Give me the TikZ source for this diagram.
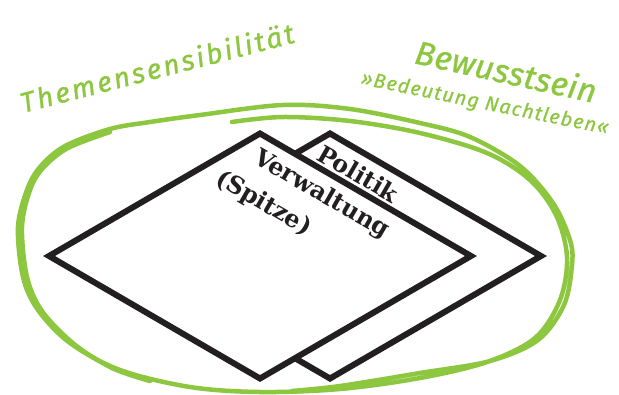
\documentclass[tikz,border=0pt]{standalone}
\usepackage{fontspec}
\newfontfamily\handT{Fira Sans}[LetterSpace=9,FakeBold=1]
\newfontfamily\handB{Fira Sans}[LetterSpace=1,FakeBold=1]
\newfontfamily\handC{Fira Sans}[LetterSpace=6,FakeBold=0.8]
\newfontfamily\labfont{DejaVu Serif}
\definecolor{lgreen}{HTML}{8DC63F}
\definecolor{dblack}{HTML}{231F20}
\tikzset{
  loop/.style={draw=lgreen, line width=4.5pt, line cap=round, line join=round},
  sheet/.style={draw=dblack, fill=white, line width=6pt, line join=miter},
  handtext/.style={text=lgreen, inner sep=0pt},
  labtext/.style={text=dblack, inner sep=0pt, font=\labfont\bfseries\fontsize{24}{28}\selectfont, rotate=-30, anchor=base west},
}
\begin{document}
\begin{tikzpicture}[x=1pt,y=-1pt]
\useasboundingbox (0,0) rectangle (619,394);
% green hand-drawn loop
\draw[loop] plot[smooth, tension=0.55] coordinates {
 (232,122) (283,117) (350,121) (420,133) (487,153) (530,180) (556,215)
 (567,257) (560,300) (535,338) (487,362) (420,378) (340,389) (260,392)
 (190,387) (120,370) (70,343) (38,310) (23,277) (18,227) (27,190)
 (40,167) (65,146) (110,129) (150,122) (200,115) (283,105) (350,109)
 (420,123) (470,137) (520,166) (553,203) (570,240) (572,265) (564,305)
 (538,340) (490,361) (420,373) (340,386) (292,391)};
\draw[loop, line width=4.5pt] plot[smooth, tension=0.55] coordinates {
 (150,381) (112,368) (74,344) (42,311) (27,277) (22,227) (30,190)
 (43,168) (68,148) (110,132)};
% sheets
\coordinate (pt) at (330,133.5);
\coordinate (pr) at (541,256);
\coordinate (pb) at (330,378.5);
\coordinate (pl) at (119,256);
\coordinate (vt) at (260,133.5);
\coordinate (vr) at (471,256);
\coordinate (vb) at (260,378.5);
\coordinate (vl) at (49,256);
\draw[sheet] (pt) -- (pr) -- (pb) -- (pl) -- cycle;
\draw[sheet] (vt) -- (vr) -- (vb) -- (vl) -- cycle;
% labels
\node[labtext] (politik) at (315.5,159) {Politik};
\node[labtext] (verw) at (252,162) {Verwaltung};
\node[labtext] (spitze) at (214,183) {(Spitze)};
% green texts
\node[handtext, anchor=base west, rotate=14.5] (themen) at (23,113)
  {\handT\itshape\fontsize{28}{32}\selectfont Themensensibilität};
\node[handtext, anchor=base west, rotate=-12.5] (bew) at (413,63)
  {\handB\itshape\fontsize{33}{38}\selectfont Bewusstsein};
\node[handtext, anchor=base west, rotate=-11.5] (bed) at (360,84)
  {\handC\itshape\fontsize{20}{24}\selectfont »Bedeutung Nachtleben«};
\end{tikzpicture}
\end{document}
